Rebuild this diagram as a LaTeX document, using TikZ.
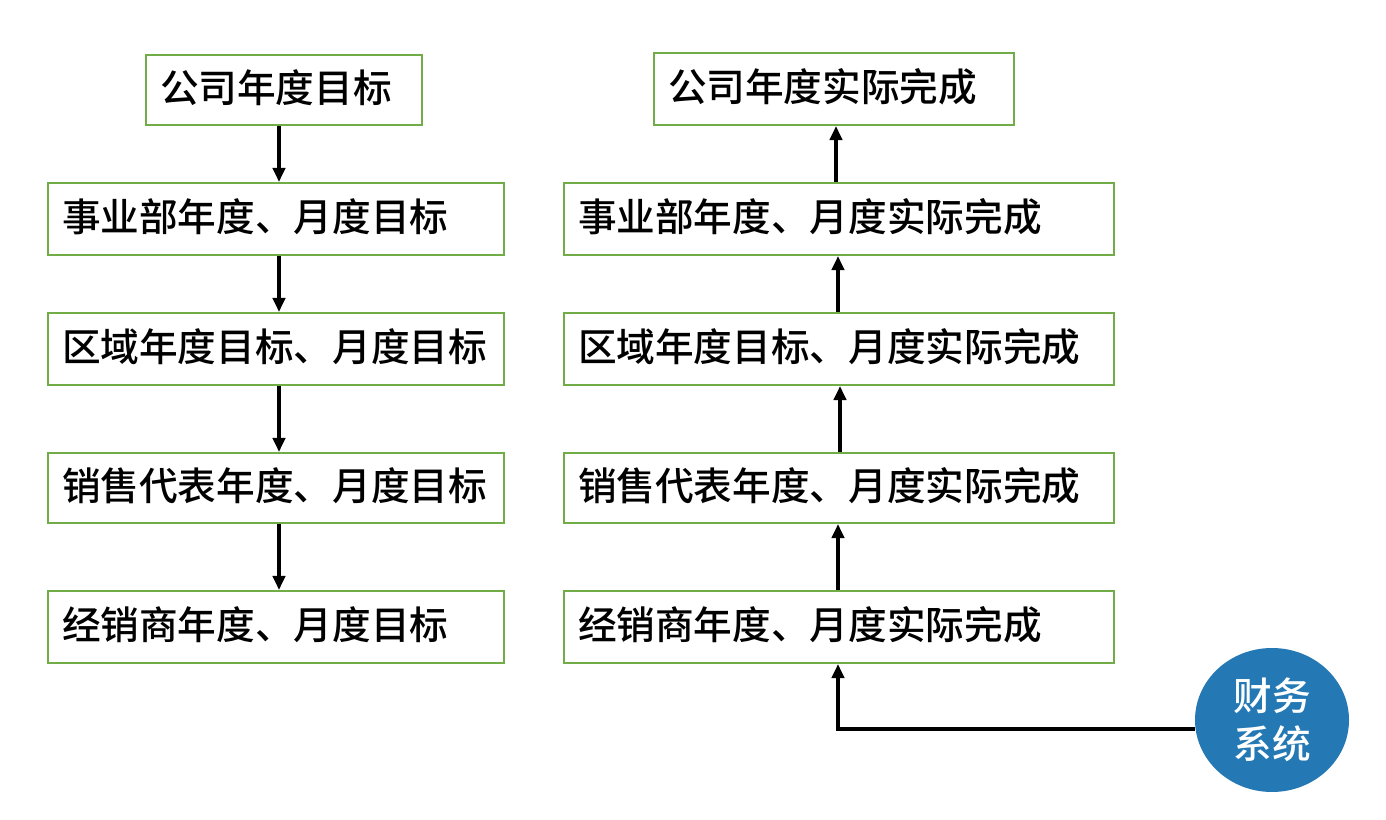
\documentclass[tikz,border=0pt]{standalone}
\usepackage{fontspec}
\newfontfamily\cjk{Noto Sans CJK SC Medium}
\usetikzlibrary{shapes.geometric,arrows.meta}
\begin{document}
\begin{tikzpicture}[x=0.02cm,y=-0.02cm,
  box/.style={draw={rgb,255:red,112;green,173;blue,71},line width=1.2pt,inner xsep=0pt,inner ysep=0pt,
    font=\cjk\fontsize{22}{26}\selectfont,align=left},
  arr/.style={line width=1.9pt,-{Triangle[length=8pt,width=7pt]}}]
\useasboundingbox (0,0) rectangle (1386,820);
\newcommand\bx[6]{\node[box,minimum width=#4*0.02cm-#3*0.02cm,minimum height=#6*0.02cm-#5*0.02cm,text width=#4*0.02cm-#3*0.02cm-28*0.02cm] (#1) at ({(#3+#4)/2},{(#5+#6)/2}) {\raisebox{4pt}{#2}};}
\bx{l1}{公司年度目标}{146}{422}{55}{125}
\bx{l2}{事业部年度、月度目标}{48}{504}{183}{255}
\bx{l3}{区域年度目标、月度目标}{48}{504}{313}{385}
\bx{l4}{销售代表年度、月度目标}{48}{504}{453}{523}
\bx{l5}{经销商年度、月度目标}{48}{504}{591}{663}
\bx{r1}{公司年度实际完成}{654}{1014}{53}{125}
\bx{r2}{事业部年度、月度实际完成}{564}{1114}{183}{255}
\bx{r3}{区域年度目标、月度实际完成}{564}{1114}{313}{385}
\bx{r4}{销售代表年度、月度实际完成}{564}{1114}{453}{523}
\bx{r5}{经销商年度、月度实际完成}{564}{1114}{591}{663}
\node[ellipse,fill={rgb,255:red,36;green,120;blue,180},minimum width=154*0.02cm,minimum height=144*0.02cm,inner sep=0pt,
  text=white,font=\cjk\fontsize{22}{27}\selectfont,align=center] (fs) at (1272,720) {财务\\系统};
\foreach \a/\b in {l1/l2,l2/l3,l3/l4,l4/l5}
  \draw[arr] (\a.south -| 279,0) -- (\b.north -| 279,0);
\draw[arr] (r2.north -| 836,0) -- (r1.south -| 836,0);
\draw[arr] (r3.north -| 838,0) -- (r2.south -| 838,0);
\draw[arr] (r4.north -| 840,0) -- (r3.south -| 840,0);
\draw[arr] (r5.north -| 838,0) -- (r4.south -| 838,0);
\coordinate (c) at (838,729);
\draw[arr] (fs.west |- c) -- (c) -- (r5.south -| c);
\end{tikzpicture}
\end{document}
